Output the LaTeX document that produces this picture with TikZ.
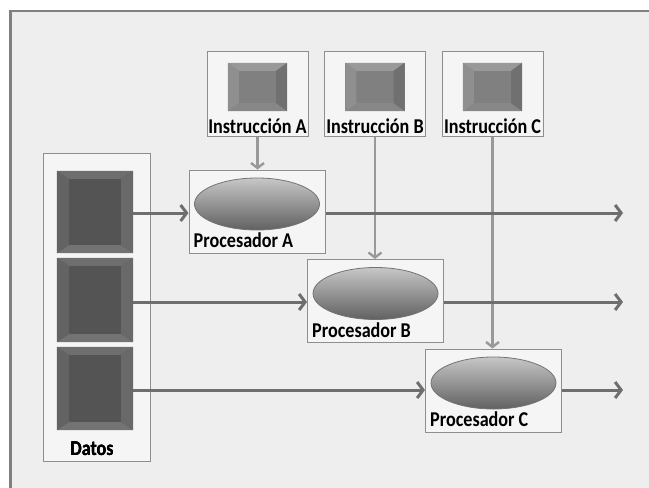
\documentclass[tikz,border=0pt]{standalone}
\usepackage{fontspec}
\setmainfont{Carlito}
\usepackage{tikz}
\usetikzlibrary{shapes.geometric,arrows.meta,calc}

\definecolor{bgcol}{HTML}{EEEEEE}
\definecolor{framecol}{HTML}{808080}
\definecolor{linecol}{HTML}{6E6E6E}
\definecolor{feedcol}{HTML}{999999}
\definecolor{boxcol}{HTML}{8E8E8E}

\newcommand{\tallbf}[1]{\scalebox{0.93}[1.08]{\fontsize{19.5}{19.5}\selectfont\bfseries #1}}
% bevelled square: node, dx, dy, face, top, left, right, bottom
\newcommand{\bevelsq}[8]{%
  \fill[#4] (#1.north west) rectangle (#1.south east);
  \fill[#5] (#1.north west) -- (#1.north east) -- ($(#1.north east)+(-#2,#3)$) -- ($(#1.north west)+(#2,#3)$) -- cycle;
  \fill[#8] (#1.south west) -- (#1.south east) -- ($(#1.south east)+(-#2,-#3)$) -- ($(#1.south west)+(#2,-#3)$) -- cycle;
  \fill[#6] (#1.north west) -- ($(#1.north west)+(#2,#3)$) -- ($(#1.south west)+(#2,-#3)$) -- (#1.south west) -- cycle;
  \fill[#7] (#1.north east) -- ($(#1.north east)+(-#2,#3)$) -- ($(#1.south east)+(-#2,-#3)$) -- (#1.south east) -- cycle;
}

\begin{document}
\begin{tikzpicture}[x=1pt,y=-1pt,
      outbox/.style={rectangle,draw=boxcol,line width=1pt,fill=white!96!black,inner sep=0pt},
      sq/.style={rectangle,inner sep=0pt},
      proc/.style={ellipse,draw=black!55,line width=0.8pt,inner sep=0pt,
        top color=black!22,bottom color=black!62,minimum width=125pt,minimum height=52pt},
      lbl/.style={inner sep=0pt,anchor=base},
      flow/.style={linecol,line width=3pt,-{Straight Barb[length=6pt,width=16pt]}},
      feed/.style={feedcol,line width=2.4pt,-{Straight Barb[length=5pt,width=13pt]}}]
    \useasboundingbox (0,0) rectangle (649,488);
    \fill[white] (0,0) rectangle (649,488);
    \fill[bgcol] (10,10) rectangle (649,488);
    \draw[framecol,line width=2.5pt] (10.5,488) -- (10.5,11) -- (649,11);

    % datos
    \node[outbox,minimum width=107pt,minimum height=308pt] (datos) at (96.5,307) {};
    \node[sq,minimum width=76pt,minimum height=82pt] (da) at (95,212) {};
    \node[sq,minimum width=76pt,minimum height=84pt] (db) at (95,300) {};
    \node[sq,minimum width=76pt,minimum height=83pt] (dc) at (95,388.5) {};
    \foreach \n in {da,db,dc}
      \bevelsq{\n}{12}{8}{black!67}{black!57}{black!61}{black!59}{black!55}
    \node[lbl] at (92,455) {\tallbf{Datos}};

    % instrucciones
    \foreach \n/\x/\t in {ia/257.5/A,ib/375/B,ic/492.5/C}{
      \node[outbox,minimum width=101pt,minimum height=85pt] (\n) at (\x,93.5) {};
      \node[sq,minimum width=59pt,minimum height=48pt] (\n sq) at (\x,87) {};
      \bevelsq{\n sq}{11}{8}{black!50}{black!40}{black!44}{black!56}{black!47}
      \node[lbl] at (\x,133) {\tallbf{Instrucción \t}};
    }

    % procesadores
    \foreach \n/\x/\y/\t in {pa/257/211.5/A,pb/375.5/301/B,pc/493.5/390.5/C}{
      \node[outbox,minimum width=136pt,minimum height=83pt] (\n) at (\x,\y) {};
      \node[proc] (\n e) at (\x,\y-7.5) {};
      \node[lbl,anchor=base west] at ($(\n.south west)+(5,-6)$) {\tallbf{Procesador \t}};
    }

    \coordinate (outa) at (623,213);
    \coordinate (outb) at (623,302);
    \coordinate (outc) at (623,390);

    \draw[feed] (ia.south) -- (ia.south |- pa.north);
    \draw[feed] (ib.south) -- (ib.south |- pb.north);
    \draw[feed] (ic.south) -- (ic.south |- pc.north);

    \draw[flow] (da.east |- outa) -- (outa -| pa.west);
    \draw[flow] (outa -| pa.east) -- (outa);
    \draw[flow] (db.east |- outb) -- (outb -| pb.west);
    \draw[flow] (outb -| pb.east) -- (outb);
    \draw[flow] (dc.east |- outc) -- (outc -| pc.west);
    \draw[flow] (outc -| pc.east) -- (outc);
  \end{tikzpicture}
\end{document}
